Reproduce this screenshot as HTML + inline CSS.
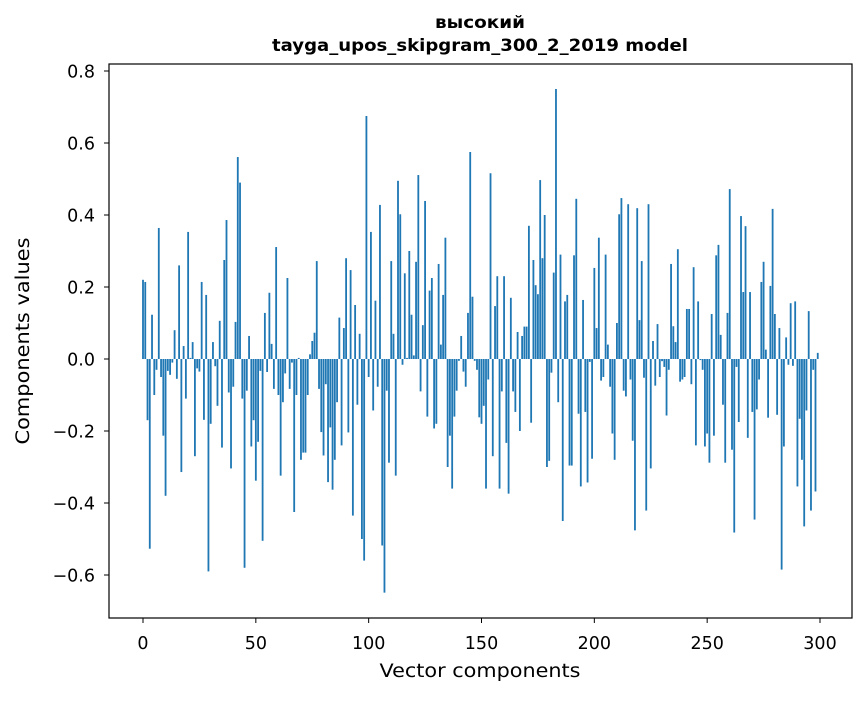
<!DOCTYPE html>
<html><head><meta charset="utf-8"><style>
body{margin:0;background:#fff;}
svg text{font-family:"DejaVu Sans","Liberation Sans",sans-serif;fill:#000;}
</style></head><body>
<svg id="chart" width="867" height="696" xmlns="http://www.w3.org/2000/svg">
<rect width="867" height="696" fill="#fff"/>
<text x="480" y="28" text-anchor="middle" font-size="16.5" font-weight="bold" textLength="90" lengthAdjust="spacingAndGlyphs">высокий</text>
<text x="480" y="51" text-anchor="middle" font-size="16.5" font-weight="bold" textLength="416" lengthAdjust="spacingAndGlyphs">tayga_upos_skipgram_300_2_2019 model</text>
<g id="bars"></g>
<g id="xticks"></g>
<g id="yticks"></g>
<rect x="109" y="64" width="743" height="554" fill="none" stroke="#000" stroke-width="1.2"/>
<text x="480" y="677" text-anchor="middle" font-size="18.5" textLength="201" lengthAdjust="spacingAndGlyphs">Vector components</text>
<text x="0" y="0" transform="translate(29,341) rotate(-90)" text-anchor="middle" font-size="18.5" textLength="207" lengthAdjust="spacingAndGlyphs">Components values</text>
</svg>
<script>
const values = [
0.22,0.214,-0.17,-0.527,0.123,-0.10,-0.03,0.364,-0.05,-0.213,
-0.38,-0.033,-0.044,-0.01,0.08,-0.055,0.26,-0.314,0.036,-0.11,
0.353,0.003,0.047,-0.27,-0.026,-0.035,0.214,-0.169,0.178,-0.59,
-0.18,0.047,-0.02,-0.13,0.106,-0.246,0.275,0.386,-0.093,-0.304,
-0.077,0.103,0.561,0.49,-0.11,-0.58,-0.088,0.064,-0.243,-0.17,
-0.338,-0.23,-0.033,-0.505,0.128,-0.036,0.184,0.042,-0.083,0.311,
-0.10,-0.324,-0.12,-0.04,0.225,-0.083,-0.01,-0.425,-0.10,0.003,
-0.28,-0.26,-0.26,-0.10,0.013,0.05,0.073,0.272,-0.083,-0.203,
-0.268,-0.07,-0.342,-0.19,-0.363,-0.28,-0.12,0.115,-0.24,0.086,
0.28,-0.204,0.247,-0.435,0.15,-0.127,0.07,-0.50,-0.56,0.675,
-0.05,0.353,-0.143,0.162,-0.077,0.428,-0.518,-0.649,-0.088,-0.288,
0.272,0.07,-0.324,0.495,0.402,-0.016,0.238,0.003,0.30,0.123,
0.01,0.27,0.511,-0.09,0.094,0.439,-0.16,0.19,0.225,-0.193,
-0.18,0.264,0.04,0.178,0.337,-0.30,-0.213,-0.36,-0.16,-0.088,
-0.005,0.064,-0.035,-0.077,0.128,0.575,0.173,-0.005,-0.03,-0.162,
-0.18,-0.13,-0.36,-0.057,0.516,-0.27,0.147,0.23,-0.36,-0.09,
0.23,-0.233,-0.374,0.17,-0.09,-0.147,0.075,-0.2,0.064,0.09,
0.09,0.37,-0.177,0.275,0.205,0.18,0.497,0.28,0.40,-0.30,
-0.283,-0.038,0.24,0.75,-0.12,0.29,-0.45,0.16,0.178,-0.296,
-0.296,0.288,0.445,-0.152,-0.354,0.164,-0.147,-0.343,-0.008,-0.277,
0.253,0.086,0.337,-0.06,-0.05,0.29,0.04,-0.077,-0.207,-0.28,
0.10,0.402,0.447,-0.088,-0.104,0.43,-0.057,-0.227,-0.476,0.419,
0.108,0.272,-0.052,-0.421,0.43,-0.304,0.05,-0.074,0.097,-0.05,
-0.006,-0.022,-0.157,-0.03,0.264,0.091,0.047,0.305,-0.063,-0.057,
-0.05,0.139,0.139,-0.07,0.255,-0.24,0.16,-0.003,-0.03,-0.243,
-0.207,-0.288,0.125,-0.213,0.288,0.317,0.067,-0.127,-0.288,0.128,
0.472,-0.252,-0.482,-0.022,-0.175,0.397,0.186,0.369,-0.219,0.186,
-0.147,-0.446,-0.14,-0.057,0.214,0.27,0.026,-0.163,0.203,0.417,
0.125,-0.155,0.086,-0.585,-0.243,0.06,-0.016,0.155,-0.019,0.16,
-0.354,-0.166,-0.28,-0.465,-0.143,0.133,-0.421,-0.03,-0.368,0.017
];
const xTicks = [0,50,100,150,200,250,300];
const yTicks = [0.8,0.6,0.4,0.2,0.0,-0.2,-0.4,-0.6];
const yTickLabels = ["0.8","0.6","0.4","0.2","0.0","\u22120.2","\u22120.4","\u22120.6"];

const NS="http://www.w3.org/2000/svg";
const X0=143, XS=(820-143)/300, Y0=359, YS=360;
function xScale(v){return X0+v*XS;}
function yScale(v){return Y0-v*YS;}
const bars=document.getElementById('bars');
values.forEach((v,i)=>{
  const r=document.createElementNS(NS,'rect');
  const x=xScale(i-0.4), w=0.8*XS;
  const y1=yScale(Math.max(v,0)), y2=yScale(Math.min(v,0));
  r.setAttribute('x',x.toFixed(2));
  r.setAttribute('y',y1.toFixed(2));
  r.setAttribute('width',w.toFixed(2));
  r.setAttribute('height',Math.max(y2-y1,0.01).toFixed(2));
  r.setAttribute('fill','#1f77b4');
  
  
  bars.appendChild(r);
});
const xg=document.getElementById('xticks');
xTicks.forEach(t=>{
  const x=xScale(t);
  const l=document.createElementNS(NS,'line');
  l.setAttribute('x1',x);l.setAttribute('x2',x);l.setAttribute('y1',618);l.setAttribute('y2',623);
  l.setAttribute('stroke','#000');
  
  
  xg.appendChild(l);
  const tx=document.createElementNS(NS,'text');
  tx.setAttribute('x',x);tx.setAttribute('y',649);tx.setAttribute('text-anchor','middle');tx.setAttribute('font-size','17.5');
  tx.textContent=String(t);
  
  
  xg.appendChild(tx);
});
const yg=document.getElementById('yticks');
yTicks.forEach((t,i)=>{
  const y=yScale(t);
  const l=document.createElementNS(NS,'line');
  l.setAttribute('x1',104);l.setAttribute('x2',109);l.setAttribute('y1',y);l.setAttribute('y2',y);
  l.setAttribute('stroke','#000');
  
  
  yg.appendChild(l);
  const tx=document.createElementNS(NS,'text');
  tx.setAttribute('x',95);tx.setAttribute('y',y+6.5);tx.setAttribute('text-anchor','end');tx.setAttribute('font-size','17.5');
  tx.textContent=yTickLabels[i];
  
  
  yg.appendChild(tx);
});
</script>
</body></html>
